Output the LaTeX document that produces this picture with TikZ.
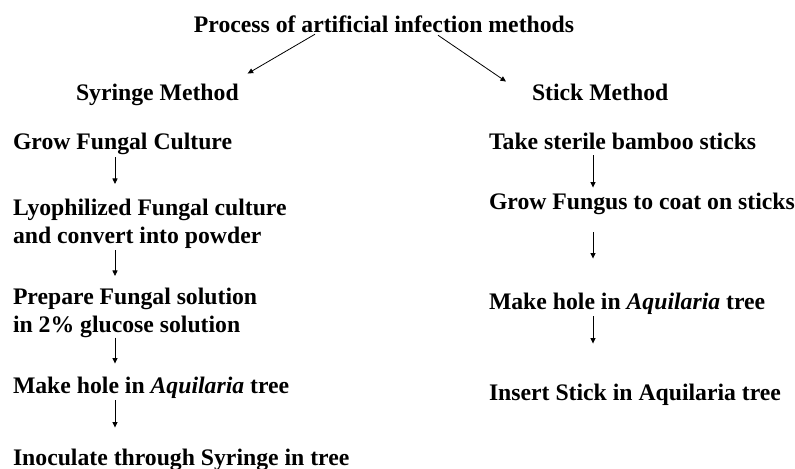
\documentclass[tikz,border=0pt]{standalone}
\usepackage{fontspec}
\setmainfont{Liberation Serif}
\usetikzlibrary{arrows.meta,calc}
\tikzset{
  txt/.style={inner sep=0pt, outer sep=0pt, font=\fontsize{23.8}{28}\selectfont\bfseries, align=left},
  arr/.style={-{Triangle[length=5.5bp,width=5bp]}, line width=0.8bp},
}
\begin{document}
\begin{tikzpicture}[x=1bp, y=-1bp]
  \useasboundingbox (0,0) rectangle (795,469);
  \node[txt, anchor=base] (title) at (384,33) {Process of artificial infection methods};

  % syringe method
  \begin{scope}[shift={(13,0)}]
      \coordinate (sx) at (102,0);
      \node[txt, anchor=base west] (syr) at (63,101) {Syringe Method};
      \node[txt, anchor=base west] (grow) at (0,150) {Grow Fungal Culture};
      \node[txt, anchor=north west] (lyo) at (0,199) {Lyophilized Fungal culture\\and convert into powder};
      \node[txt, anchor=north west] (prep) at (0,288) {Prepare Fungal solution\\in 2\% glucose solution};
      \node[txt, anchor=base west] (hole) at (0,393) {Make hole in \textit{Aquilaria} tree};
      \node[txt, anchor=base west] (inoc) at (0,465) {Inoculate through Syringe in tree};
      \draw[arr, shorten <=2bp, shorten >=15bp] (grow.south -| sx) -- (lyo.north -| sx);
      \draw[arr, shorten <=2bp, shorten >=12bp] (lyo.south -| sx) -- (prep.north -| sx);
      \draw[arr, shorten <=0bp, shorten >=13bp] (prep.south -| sx) -- (hole.north -| sx);
      \draw[arr, shorten <=2bp, shorten >=21bp] (hole.south -| sx) -- (inoc.north -| sx);
  \end{scope}

  % stick method
  \begin{scope}[shift={(489,0)}]
      \coordinate (kx) at (104,0);
      \node[txt, anchor=base west] (stk) at (43,101) {Stick Method};
      \node[txt, anchor=base west] (take) at (0,150) {Take sterile bamboo sticks};
      \node[txt, anchor=base west] (coat) at (0,210) {Grow Fungus to coat on sticks};
      \node[txt, anchor=base west] (hole2) at (0,310) {Make hole in \textit{Aquilaria} tree};
      \node[txt, anchor=base west] (ins) at (0,400) {Insert Stick in Aquilaria tree};
      \draw[arr, shorten <=5bp, shorten >=6bp] (take.south -| kx) -- (coat.north -| kx);
      \draw[arr, shorten <=17bp, shorten >=35bp] (coat.south -| kx) -- (hole2.north -| kx);
      \draw[arr, shorten <=1bp, shorten >=40bp] (hole2.south -| kx) -- (ins.north -| kx);
  \end{scope}

  \draw[arr] ($(title.south)+(-69,1)$) -- ($(syr.north east)+(9,-11)$);
  \draw[arr] ($(title.south)+(54,2)$) -- ($(stk.north west)+(-26,-3)$);
\end{tikzpicture}
\end{document}
